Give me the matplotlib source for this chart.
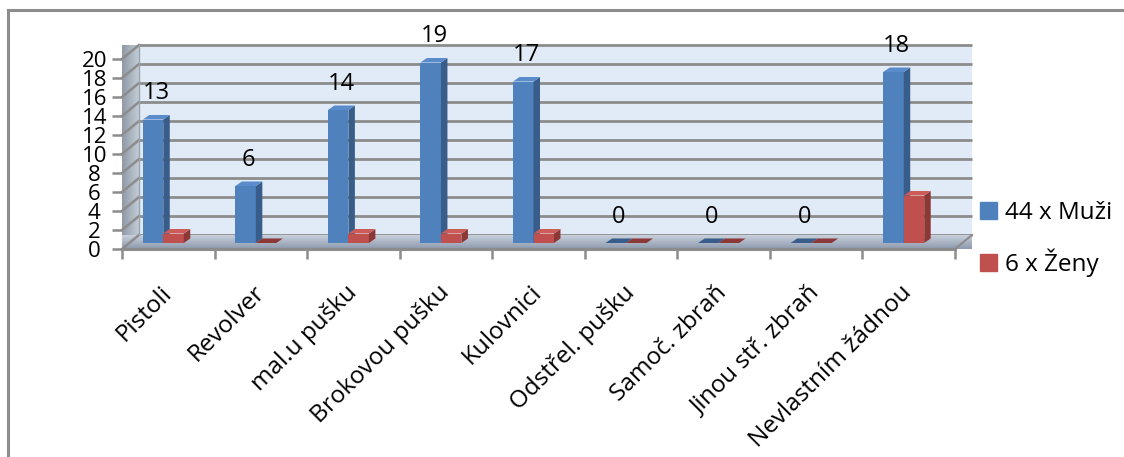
import matplotlib
matplotlib.use("Agg")
import matplotlib.pyplot as plt
import numpy as np
from matplotlib.patches import Polygon, Patch
from matplotlib.lines import Line2D
from matplotlib.colors import LinearSegmentedColormap

plt.rcParams['font.family'] = ['Open Sans', 'DejaVu Sans']

categories = ["Pistoli", "Revolver", "mal.u pušku", "Brokovou pušku", "Kulovnici",
              "Odstřel. pušku", "Samoč. zbraň", "Jinou stř. zbraň", "Nevlastním žádnou"]
muzi = [13, 6, 14, 19, 17, 0, 0, 0, 18]
zeny = [1, 0, 1, 1, 1, 0, 0, 0, 5]
series_names = ["44 x Muži", "6 x Ženy"]
yticks = list(range(0, 21, 2))

blue = ("#4f81bd", "#385d8a", "#5a8ccc")   # front, side, top
red = ("#c0504d", "#8c3836", "#cd5c59")

W, H = 1124, 457
fig = plt.figure(figsize=(W / 100, H / 100), dpi=100)
ax_l, ax_b, ax_w, ax_h = 122, 208, 833, 190
ax = fig.add_axes([ax_l / W, ax_b / H, ax_w / W, ax_h / H])
n = len(categories)


xs = ax_w / n      # px per category
ys = ax_h / 20     # px per unit


def px(dx, dy):
    return dx / xs, dy / ys


bx, by = px(17, 14)        # back wall offset
sx, sy = px(-5, 6)         # bar plane offset
dx, dy = px(6.5, 4.5)      # bar depth
bw = 20.5 / xs             # bar width

x0, x1 = -0.5, n - 0.5

# back wall
wall = Polygon([(x0 + bx, by), (x1 + bx, by), (x1 + bx, 20 + by), (x0 + bx, 20 + by)],
               closed=True, fc="#e1ebf7", ec="none", zorder=1, clip_on=False)
ax.add_patch(wall)
for t in yticks:
    ax.plot([x0 + bx, x1 + bx], [t + by, t + by], color="#8c8c8c", lw=2, zorder=2,
            clip_on=False, solid_capstyle="butt")

# left wall with gradient
lw_poly = Polygon([(x0, 0), (x0 + bx, by), (x0 + bx, 20 + by), (x0, 20)], closed=True,
                  fc="none", ec="none", transform=ax.transData)
ax.add_patch(lw_poly)
cm_wall = LinearSegmentedColormap.from_list("w", ["#8f9aa6", "#c3ccd6"])
im = ax.imshow(np.linspace(0, 1, 50).reshape(1, -1), extent=[x0, x0 + bx, 0, 20 + by],
               aspect="auto", cmap=cm_wall, zorder=2, clip_on=False)
im.set_clip_path(lw_poly)
for t in yticks:
    ax.plot([x0, x0 + bx], [t, t + by], color="#8c8c8c", lw=1.8, zorder=3, clip_on=False)
ax.plot([x0 + bx, x0 + bx], [by, 20 + by], color="#9aa3ad", lw=1, zorder=3, clip_on=False)

# floor with gradient
fl_poly = Polygon([(x0, 0), (x1, 0), (x1 + bx, by), (x0 + bx, by)], closed=True,
                  fc="none", ec="none", transform=ax.transData)
ax.add_patch(fl_poly)
cm_floor = LinearSegmentedColormap.from_list("f", ["#8d99ad", "#c8d0dc"])
im2 = ax.imshow(np.linspace(0, 1, 50).reshape(-1, 1), extent=[x0, x1 + bx, 0, by],
                origin="lower", aspect="auto", cmap=cm_floor, zorder=2, clip_on=False)
im2.set_clip_path(fl_poly)
ax.plot([x0, x1], [0, 0], color="#8c8c8c", lw=2.2, zorder=3, clip_on=False)
ax.plot([x1, x1 + bx], [0, by], color="#8c8c8c", lw=1.5, zorder=3, clip_on=False)

ax.set_xlim(x0, x1)
ax.set_ylim(0, 20)


def bar3d(xl, val, cols, z):
    xr = xl + bw
    yb = sy
    yt = sy + val
    ax.bar(xl, val, width=bw, bottom=yb, align="edge", color=cols[0], zorder=z,
           clip_on=False, lw=0)
    ax.add_patch(Polygon([(xr, yb), (xr + dx, yb + dy), (xr + dx, yt + dy), (xr, yt)],
                         fc=cols[1], ec="none", zorder=z, clip_on=False))
    ax.add_patch(Polygon([(xl, yt), (xr, yt), (xr + dx, yt + dy), (xl + dx, yt + dy)],
                         fc=cols[2] if val > 0 else cols[1], ec="none", zorder=z,
                         clip_on=False))


for i in range(n):
    xc = i + sx
    bar3d(xc - bw, muzi[i], blue, 5)
    bar3d(xc, zeny[i], red, 6)
    ax.annotate(str(muzi[i]), (xc - bw / 2 + dx / 2, muzi[i] + sy + dy),
                xytext=(0, 7), textcoords="offset points", ha="center", va="bottom",
                fontsize=17, color="black", zorder=10, annotation_clip=False)

for s in ax.spines.values():
    s.set_visible(False)
ax.set_yticks(yticks)
ax.set_yticklabels([str(t) for t in yticks], fontsize=16, ha="center")
ax.tick_params(axis="y", length=7, width=1.8, color="#8c8c8c", pad=13)
ax.set_xticks(range(n))
ax.set_xticklabels(categories, rotation=45, ha="right", va="center",
                   rotation_mode="anchor", fontsize=17.5)
ax.tick_params(axis="x", which="major", length=0, pad=29)
ax.set_xticks(np.arange(-0.5, n, 1), minor=True)
ax.tick_params(axis="x", which="minor", length=7, width=1.8, color="#8c8c8c")

handles = [Patch(color=blue[0]), Patch(color=red[0])]
fig.legend(handles, series_names, loc="center left",
           bbox_to_anchor=(958 / W, 1 - 239 / H), frameon=False, fontsize=17.5,
           handlelength=0.7, handleheight=0.7, handletextpad=0.35, labelspacing=1.0)

# chart frame (top and left edges visible)
fig.add_artist(Line2D([8 / W, 8 / W], [0, 1 - 10 / H], color="#8c8c8c", lw=2.2))
fig.add_artist(Line2D([8 / W, 1], [1 - 10 / H, 1 - 10 / H], color="#8c8c8c", lw=2.2))

fig.savefig("out.png", dpi=100, facecolor="white")
